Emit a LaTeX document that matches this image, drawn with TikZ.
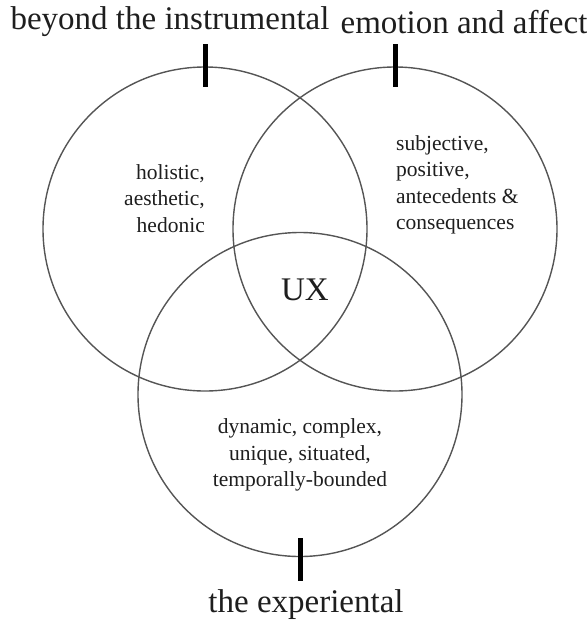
\documentclass[tikz,border=0pt]{standalone}
\usepackage{fontspec}
\setmainfont{Liberation Serif}
\usepackage{xcolor}
\usetikzlibrary{positioning,calc}
\definecolor{UXline}{HTML}{555555}
\definecolor{UXtext}{HTML}{1E1E1E}

\begin{document}
\begin{tikzpicture}[x=1pt,y=-1pt,
    ring/.style={draw=UXline, line width=1.4pt, circle,
                 minimum size=324pt, inner sep=0pt},
    tick/.style={draw=black, line width=5pt},
    bigtext/.style={text=UXtext, inner sep=0pt,
                    font=\fontsize{33}{38}\selectfont},
    smalltext/.style={text=UXtext, inner sep=0pt, align=#1,
                      font=\fontsize{21.5}{26.5}\selectfont}]
    \useasboundingbox (0,0) rectangle (587,622);

    % the three circles
    \node[ring] (instr) at (205,229) {};
    \node[ring] (emo)   at (395,229) {};
    \node[ring] (exper) at (300,394.5) {};

    % ticks on the circles
    \draw[tick] ([yshift=22pt]instr.north) -- ([yshift=-21pt]instr.north);
    \draw[tick] ([yshift=22pt]emo.north) -- ([yshift=-21pt]emo.north);
    \draw[tick] ([yshift=19pt]exper.south) -- ([yshift=-24pt]exper.south);

    % headings
    \node[bigtext] (instrlab) at (170,22) {beyond the instrumental};
    \node[bigtext] (emolab)   at (464,22) {emotion and affect};
    \node[bigtext] (experlab) at (306,605) {the experiental};

    % texts inside
    \node[smalltext=right, anchor=north east] (instrtxt) at (205,164)
      {holistic,\\aesthetic,\\hedonic};
    \node[smalltext=left, anchor=north west] (emotxt) at (396,135)
      {subjective,\\positive,\\antecedents \&\\consequences};
    \node[smalltext=center] (expertxt) at (300,455)
      {dynamic, complex,\\unique, situated,\\temporally-bounded};
    \node[bigtext] (ux) at (305,290) {UX};
\end{tikzpicture}
\end{document}
